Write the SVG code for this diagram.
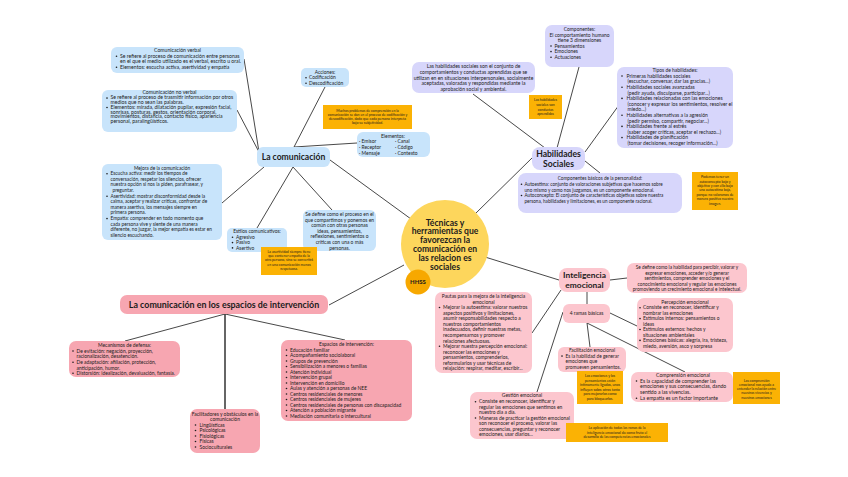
<svg xmlns="http://www.w3.org/2000/svg" width="848" height="477" viewBox="0 0 848 477">
<style>
text{font-family:Lato,"Open Sans","Liberation Sans",sans-serif;fill:#1c1c1c}
.t{font-size:4.95px}
.n{font-size:3.5px;text-anchor:middle}
.c{text-anchor:middle}
.h{font-size:9px;font-weight:700;text-anchor:middle}
.b{fill:#c8e4fb}
.p{fill:#d7d6fb}
.k{fill:#fcc6ce}
.k2{fill:#f7a6b1}
.o{fill:#fbb204}
.d{fill:#1c1c1c}
</style>
<rect width="848" height="477" fill="#ffffff"/>
<g id="connectors" stroke="#333" stroke-width="0.9" fill="none">
<line x1="244" y1="59" x2="259" y2="152"/>
<line x1="237" y1="110" x2="259" y2="152"/>
<line x1="222" y1="203" x2="264" y2="167"/>
<line x1="293" y1="167" x2="257" y2="228"/>
<line x1="293" y1="167" x2="332" y2="210"/>
<line x1="325" y1="87" x2="294" y2="147"/>
<line x1="357" y1="143" x2="294" y2="147"/>
<line x1="330" y1="160" x2="411" y2="219"/>
<line x1="329" y1="305" x2="404" y2="265"/>
<line x1="485" y1="257" x2="559" y2="280"/>
<line x1="475" y1="214" x2="533" y2="157"/>
<line x1="473" y1="94" x2="545" y2="148"/>
<line x1="579" y1="67" x2="557" y2="148"/>
<line x1="619" y1="105" x2="585" y2="152"/>
<line x1="585" y1="161" x2="600" y2="173"/>
<line x1="610" y1="280" x2="627" y2="278"/>
<line x1="587" y1="292" x2="587" y2="304"/>
<line x1="561" y1="290" x2="532" y2="333"/>
<line x1="563" y1="312" x2="537" y2="392"/>
<line x1="587" y1="323" x2="590" y2="347"/>
<line x1="610" y1="313" x2="637" y2="326"/>
<line x1="587" y1="323" x2="685" y2="372"/>
<line x1="225" y1="314" x2="125" y2="341"/>
<line x1="225" y1="314" x2="225" y2="409" stroke-width="1.5"/>
<line x1="225" y1="314" x2="345" y2="340"/>
</g>

<g id="center">
<circle cx="445" cy="244" r="44" fill="#fdd65c"/>
<text class="h" x="445" style="font-size:8.6px"><tspan x="445" y="225.5">Técnicas y</tspan><tspan x="445" y="234.3">herramientas que</tspan><tspan x="445" y="243.1">favorezcan la</tspan><tspan x="445" y="251.9">comunicación en</tspan><tspan x="445" y="260.7">las relacion es</tspan><tspan x="445" y="269.5">sociales</tspan></text>
</g>
<g id="hhss">
<circle cx="418" cy="282" r="12.5" fill="#f7a800"/>
<text class="h" x="418" y="284.2" style="font-size:6px">HHSS</text>
</g>

<g id="la-comunicacion">
<rect x="257" y="147" width="73" height="20" rx="6" class="b"/>
<text class="h" x="293.5" y="160.3" style="font-size:8.6px">La comunicación</text>
</g>

<g id="com-verbal">
<rect x="111" y="47" width="133" height="26" rx="6" class="b"/>
<text class="t c" x="177.5" y="52" style="font-size:5.15px">Comunicación verbal</text>
<circle class="d" cx="116.5" cy="56.3" r="0.8"/><circle class="d" cx="116.5" cy="67.3" r="0.8"/>
<text class="t" style="font-size:5.15px"><tspan x="120" y="57.6">Se refiere al proceso de comunicación entre personas</tspan><tspan x="120" y="63">en el que el medio utilizado es el verbal, escrito u oral.</tspan><tspan x="120" y="68.6">Elementos: escucha activa, asertividad y empatía</tspan></text>
</g>

<g id="com-no-verbal">
<rect x="102" y="90" width="135" height="42" rx="6" class="b"/>
<text class="t c" x="169.5" y="94.4" style="font-size:5.15px">Comunicación no verbal</text>
<circle class="d" cx="107" cy="98.1" r="0.8"/><circle class="d" cx="107" cy="107.5" r="0.8"/>
<text class="t" style="font-size:5.15px"><tspan x="110.5" y="99.4">Se refiere al proceso de trasmitir información por otros</tspan><tspan x="110.5" y="104.1">medios que no sean las palabras.</tspan><tspan x="110.5" y="108.8">Elementos: mirada, dilatación pupilar, expresión facial,</tspan><tspan x="110.5" y="113.5">sonrisas, posturas, gestos, orientación corporal,</tspan><tspan x="110.5" y="118.2">movimientos, distancia, contacto físico, apariencia</tspan><tspan x="110.5" y="122.9">personal, paralingüísticos.</tspan></text>
</g>

<g id="mejora">
<rect x="102" y="164" width="120" height="76" rx="6" class="b"/>
<text class="t c" x="162" y="169.8" style="font-size:4.8px">Mejora de la comunicación</text>
<circle class="d" cx="107" cy="173.8" r="0.8"/><circle class="d" cx="107" cy="196.2" r="0.8"/><circle class="d" cx="107" cy="218.6" r="0.8"/>
<text class="t" style="font-size:4.8px"><tspan x="110.5" y="175.2">Escucha activa: medir los tiempos de</tspan><tspan x="110.5" y="180.8">conversación, respetar los silencios, ofrecer</tspan><tspan x="110.5" y="186.4">nuestra opción si nos la piden, parafrasear, y</tspan><tspan x="112.5" y="192">preguntar.</tspan><tspan x="110.5" y="197.6">Asertividad: mostrar disconformidad desde la</tspan><tspan x="110.5" y="203.2">calma, aceptar y realizar críticas, confrontar de</tspan><tspan x="110.5" y="208.8">manera asertiva, los mensajes siempre en</tspan><tspan x="110.5" y="214.4">primera persona.</tspan><tspan x="110.5" y="220">Empatía: comprender en todo momento que</tspan><tspan x="110.5" y="225.6">cada persona vive y siente de una manera</tspan><tspan x="110.5" y="231.2">diferente, no juzgar, la mejor empatía es estar en</tspan><tspan x="110.5" y="236.8">silencio escuchando.</tspan></text>
</g>

<g id="acciones">
<rect x="301" y="68" width="48" height="19" rx="5" class="b"/>
<text class="t c" x="325" y="74">Acciones:</text>
<circle class="d" cx="306" cy="77.7" r="0.8"/><circle class="d" cx="306" cy="83.2" r="0.8"/>
<text class="t"><tspan x="309" y="79.4">Codificación</tspan><tspan x="309" y="84.9">Descodificación</tspan></text>
</g>

<g id="nota-codificacion">
<rect x="323" y="105" width="89" height="24" class="o"/>
<text class="n"><tspan x="367.5" y="111.5">Muchos problemas de comprensión en la</tspan><tspan x="367.5" y="115.8">comunicación se dan en el proceso de codificación y</tspan><tspan x="367.5" y="120.1">descodificación, dado que cada persona interpreta</tspan><tspan x="367.5" y="124.4">bajo su subjetividad.</tspan></text>
</g>

<g id="elementos">
<rect x="357" y="132" width="73" height="25" rx="6" class="b"/>
<text class="t c" x="393" y="137.8">Elementos:</text>
<text class="t"><tspan x="359" y="143.4">· Emisor</tspan><tspan x="359" y="149">· Receptor</tspan><tspan x="359" y="154.6">· Mensaje</tspan></text>
<text class="t"><tspan x="395" y="143.4">· Canal</tspan><tspan x="395" y="149">· Código</tspan><tspan x="395" y="154.6">· Contexto</tspan></text>
</g>

<g id="estilos">
<rect x="227" y="228" width="60" height="24" rx="5" class="b"/>
<text class="t c" x="257" y="233.4">Estilos comunicativos:</text>
<circle class="d" cx="232.5" cy="237.3" r="0.8"/><circle class="d" cx="232.5" cy="242.6" r="0.8"/><circle class="d" cx="232.5" cy="247.9" r="0.8"/>
<text class="t"><tspan x="236" y="239">Agresivo</tspan><tspan x="236" y="244.3">Pasivo</tspan><tspan x="236" y="249.6">Asertivo</tspan></text>
</g>

<g id="se-define-com">
<rect x="303" y="210" width="73" height="41" rx="6" class="b"/>
<text class="t c"><tspan x="339.5" y="216">Se define como el proceso en el</tspan><tspan x="339.5" y="221.6">que compartimos y ponemos en</tspan><tspan x="339.5" y="227.2">común con otras personas</tspan><tspan x="339.5" y="232.8">ideas, pensamientos,</tspan><tspan x="339.5" y="238.4">reflexiones, sentimientos o</tspan><tspan x="339.5" y="244">críticas con una o más</tspan><tspan x="339.5" y="249.6">personas.</tspan></text>
</g>

<g id="nota-asertividad">
<rect x="261" y="247" width="56" height="28" class="o"/>
<text class="n"><tspan x="289" y="253">La asertividad siempre tiene</tspan><tspan x="289" y="257.2">que contener empatía de la</tspan><tspan x="289" y="261.4">otra persona, sino se convertirá</tspan><tspan x="289" y="265.6">en una comunicación menos</tspan><tspan x="289" y="269.8">respetuosa.</tspan></text>
</g>

<g id="hab-sociales">
<rect x="532" y="147" width="53" height="23" rx="8" class="p"/>
<text class="h" style="font-size:8.6px"><tspan x="558.5" y="157.3">Habilidades</tspan><tspan x="558.5" y="167">Sociales</tspan></text>
</g>

<g id="hab-def">
<rect x="412" y="62" width="123" height="31" rx="7" class="p"/>
<text class="t c" style="font-size:5.05px"><tspan x="473.5" y="68.4">Las habilidades sociales son el conjunto de</tspan><tspan x="473.5" y="74">comportamientos y conductas aprendidas que se</tspan><tspan x="473.5" y="79.5">utilizan en en situaciones interpersonales, socialmente</tspan><tspan x="473.5" y="85">aceptadas, valoradas y respondidas mediante la</tspan><tspan x="473.5" y="90.6">aprobación social y ambiental.</tspan></text>
</g>

<g id="componentes">
<rect x="545" y="25" width="69" height="42" rx="7" class="p"/>
<text class="t c"><tspan x="579.5" y="31">Componentes:</tspan><tspan x="579.5" y="36.6">El comportamiento humano</tspan><tspan x="579.5" y="41.8">tiene 3 dimensiones</tspan></text>
<circle class="d" cx="551" cy="46" r="0.8"/><circle class="d" cx="551" cy="51.6" r="0.8"/><circle class="d" cx="551" cy="57.2" r="0.8"/>
<text class="t"><tspan x="554.5" y="47.7">Pensamientos</tspan><tspan x="554.5" y="53.3">Emociones</tspan><tspan x="554.5" y="58.9">Actuaciones</tspan></text>
</g>

<g id="nota-aprendidas">
<rect x="529" y="95" width="33" height="24" class="o"/>
<text class="n"><tspan x="545.5" y="101.3">Las habilidades</tspan><tspan x="545.5" y="105.9">sociales son</tspan><tspan x="545.5" y="110.5">conductas</tspan><tspan x="545.5" y="115.1">aprendidas</tspan></text>
</g>

<g id="tipos">
<rect x="617" y="67" width="116" height="81" rx="7" class="p"/>
<text class="t c" x="675" y="72.4">Tipos de  habilidades:</text>
<circle class="d" cx="622" cy="76" r="0.8"/><circle class="d" cx="622" cy="87.2" r="0.8"/><circle class="d" cx="622" cy="98.4" r="0.8"/><circle class="d" cx="622" cy="115.2" r="0.8"/><circle class="d" cx="622" cy="126.4" r="0.8"/><circle class="d" cx="622" cy="137.6" r="0.8"/>
<text class="t" style="font-size:5.05px"><tspan x="626.5" y="77.7">Primeras habilidades sociales</tspan><tspan x="627.5" y="83.3">(escuchar, conversar, dar las gracias...)</tspan><tspan x="626.5" y="88.9">Habilidades sociales avanzadas</tspan><tspan x="627.5" y="94.5">(pedir ayuda, disculparse, participar...)</tspan><tspan x="626.5" y="100.1">Habilidades relacionadas con las  emociones</tspan><tspan x="627.5" y="105.7">(conocer y expresar los sentimientos, resolver el</tspan><tspan x="627.5" y="111.3">miedo...)</tspan><tspan x="626.5" y="116.9">Habilidades alternativas a la agresión</tspan><tspan x="627.5" y="122.5">(pedir permiso, compartir, negociar...)</tspan><tspan x="626.5" y="128.1">Habilidades frente al estrés</tspan><tspan x="627.5" y="133.7">(saber acoger críticas, aceptar el rechazo...)</tspan><tspan x="626.5" y="139.3">Habilidades de planificación</tspan><tspan x="627.5" y="144.9">(tomar decisiones, recoger información...)</tspan></text>
</g>

<g id="comp-basicos">
<rect x="518" y="173" width="164" height="40" rx="8" class="p"/>
<text class="t c" x="600" y="180.2" style="font-size:4.7px">Componentes básicos de la personalidad:</text>
<circle class="d" cx="521.5" cy="184.3" r="0.8"/><circle class="d" cx="521.5" cy="195.5" r="0.8"/>
<text class="t" style="font-size:4.65px"><tspan x="524.5" y="186">Autoestima: conjunto de valoraciones subjetivas que hacemos sobre</tspan><tspan x="524.5" y="191.6">uno mismo y como nos juzgamos, es un componente emocional.</tspan><tspan x="524.5" y="197.2">Autoconcepto: El conjunto de características objetivas sobre nuestra</tspan><tspan x="524.5" y="202.8">persona, habilidades y limitaciones, es un componente racional.</tspan></text>
</g>

<g id="nota-autoconcepto">
<rect x="692" y="172" width="46" height="38" class="o"/>
<text class="n"><tspan x="715" y="178.2">Podemos tener un</tspan><tspan x="715" y="182.6">autoconcepto bajo y</tspan><tspan x="715" y="187">objetivo y con ello bajo</tspan><tspan x="715" y="191.4">una autoestima baja,</tspan><tspan x="715" y="195.8">porque no valoramos de</tspan><tspan x="715" y="200.2">manera positiva nuestra</tspan><tspan x="715" y="204.6">imagen.</tspan></text>
</g>

<g id="int-emocional">
<rect x="559" y="268" width="51" height="24" rx="8" class="k"/>
<text class="h" style="font-size:8.4px"><tspan x="584.5" y="278">Inteligencia</tspan><tspan x="584.5" y="288">emocional</tspan></text>
</g>

<g id="ie-def">
<rect x="627" y="263" width="120" height="30" rx="7" class="k"/>
<text class="t c" style="font-size:4.7px"><tspan x="687" y="269.4">Se define como la habilidad para percibir, valorar y</tspan><tspan x="687" y="274.8">expresar emociones, acceder y/o generar</tspan><tspan x="687" y="280.2">sentimientos, comprender emociones y el</tspan><tspan x="687" y="285.6">conocimiento emocional y regular las emociones</tspan><tspan x="687" y="291">promoviendo un crecimiento emocional e intelectual.</tspan></text>
</g>

<g id="percepcion">
<rect x="637" y="298" width="96" height="54" rx="7" class="k"/>
<text class="t c" x="685" y="304">Percepción emocional</text>
<circle class="d" cx="640" cy="307.7" r="0.8"/><circle class="d" cx="640" cy="318.6" r="0.8"/><circle class="d" cx="640" cy="329.5" r="0.8"/><circle class="d" cx="640" cy="340.4" r="0.8"/>
<text class="t"><tspan x="643" y="309.4">Consiste en reconocer, identificar y</tspan><tspan x="643" y="314.8">nombrar las emociones</tspan><tspan x="643" y="320.3">Estímulos internos: pensamientos o</tspan><tspan x="643" y="325.7">ideas</tspan><tspan x="643" y="331.2">Estímulos externos: hechos y</tspan><tspan x="643" y="336.6">situaciones ambientales</tspan><tspan x="643" y="342.1">Emociones básicas: alegría, ira, tristeza,</tspan><tspan x="643" y="347.5">miedo, aversión, asco y sorpresa</tspan></text>
</g>

<g id="ramas">
<rect x="563" y="304" width="47" height="19" rx="6" class="k"/>
<text class="t c" x="586.5" y="315.2">4 ramas básicas</text>
</g>

<g id="facilitacion">
<rect x="558" y="347" width="68" height="25" rx="6" class="k"/>
<text class="t c" x="592" y="352.4" style="font-size:4.8px">Facilitación emocional</text>
<circle class="d" cx="562" cy="356.1" r="0.8"/>
<text class="t" style="font-size:4.8px"><tspan x="565.5" y="357.8">Es la habilidad de generar</tspan><tspan x="565.5" y="363.3">emociones que</tspan><tspan x="565.5" y="368.8">promueven pensamientos.</tspan></text>
</g>

<g id="nota-emociones">
<rect x="577" y="371" width="46" height="33" class="o"/>
<text class="n"><tspan x="600" y="377">Las emociones y los</tspan><tspan x="600" y="381.5">pensamientos están</tspan><tspan x="600" y="386">íntimamente ligados, unos</tspan><tspan x="600" y="390.5">influyen sobre otros tanto</tspan><tspan x="600" y="395">para mejorarlos como</tspan><tspan x="600" y="399.5">para bloquearlos.</tspan></text>
</g>

<g id="pautas">
<rect x="435" y="292" width="97" height="81" rx="7" class="k"/>
<text class="t c"><tspan x="483.5" y="298.4">Pautas para la mejora de la inteligencia</tspan><tspan x="483.5" y="303.6">emocional</tspan></text>
<circle class="d" cx="439.5" cy="307.5" r="0.8"/><circle class="d" cx="439.5" cy="346.3" r="0.8"/>
<text class="t"><tspan x="443" y="309.2">Mejorar la autoestima: valorar nuestros</tspan><tspan x="443" y="314.75">aspectos positivos y limitaciones,</tspan><tspan x="443" y="320.3">asumir responsabilidades respecto a</tspan><tspan x="443" y="325.85">nuestros comportamientos</tspan><tspan x="443" y="331.4">inadecuados, definir nuestras metas,</tspan><tspan x="443" y="336.95">recompensarnos y promover</tspan><tspan x="443" y="342.5">relaciones afectuosas.</tspan><tspan x="443" y="348.05">Mejorar nuestra percepción emocional:</tspan><tspan x="443" y="353.6">reconocer las emociones y</tspan><tspan x="443" y="359.15">pensamientos, comprenderlos,</tspan><tspan x="443" y="364.7">reformularlos y usar técnicas de</tspan><tspan x="443" y="370.25">relajación: respirar, meditar, escribir...</tspan></text>
</g>

<g id="gestion">
<rect x="470" y="392" width="104" height="47" rx="7" class="k"/>
<text class="t c" x="522" y="396.8">Gestión emocional</text>
<circle class="d" cx="475.5" cy="401.7" r="0.8"/><circle class="d" cx="475.5" cy="418" r="0.8"/>
<text class="t"><tspan x="479" y="403.4">Consiste en reconocer, identificar y</tspan><tspan x="479" y="408.8">regular las emociones que sentimos en</tspan><tspan x="479" y="414.2">nuestro día a día.</tspan><tspan x="479" y="419.7">Maneras de practicar la gestión emocional</tspan><tspan x="479" y="425.1">son reconocer el proceso, valorar las</tspan><tspan x="479" y="430.5">consecuencias, preguntar y reconocer</tspan><tspan x="479" y="435.9">emociones, usar diarios...</tspan></text>
</g>

<g id="nota-competencias">
<rect x="566" y="423" width="102" height="19" class="o"/>
<text class="n"><tspan x="617" y="429.4">La aplicación de todas las ramas de la</tspan><tspan x="617" y="433.8">inteligencia emocional da como fruto el</tspan><tspan x="617" y="438.2">desarrollo de las competencias emocionales</tspan></text>
</g>

<g id="comprension">
<rect x="631" y="372" width="102" height="30" rx="7" class="k"/>
<text class="t c" x="683" y="377.4" style="font-size:5.1px">Comprensión emocional</text>
<circle class="d" cx="636.5" cy="381" r="0.8"/><circle class="d" cx="636.5" cy="398.3" r="0.8"/>
<text class="t" style="font-size:5.1px"><tspan x="640" y="382.7">Es la capacidad de comprender las</tspan><tspan x="640" y="388.4">emociones y sus consecuencias, dando</tspan><tspan x="640" y="394.1">sentido a las vivencias.</tspan><tspan x="640" y="400">La empatía es un factor importante</tspan></text>
</g>

<g id="nota-comprension">
<rect x="733" y="372" width="47" height="32" class="o"/>
<text class="n"><tspan x="756.5" y="381.8">Las comprensión</tspan><tspan x="756.5" y="386">emocional nos ayuda a</tspan><tspan x="756.5" y="390.2">entender la relación entre</tspan><tspan x="756.5" y="394.4">nuestras vivencias y</tspan><tspan x="756.5" y="398.6">nuestras emociones</tspan></text>
</g>

<g id="espacios-main">
<rect x="120" y="295" width="208" height="19" rx="7" class="k2"/>
<text class="h" x="224" y="307.8" style="font-size:8.9px">La comunicación en los espacios de intervención</text>
</g>

<g id="mecanismos">
<rect x="69" y="341" width="111" height="36" rx="7" class="k2"/>
<text class="t c" x="124.5" y="347.4">Mecanismos de defensa:</text>
<circle class="d" cx="73" cy="351" r="0.8"/><circle class="d" cx="73" cy="362.3" r="0.8"/><circle class="d" cx="73" cy="373.3" r="0.8"/>
<text class="t"><tspan x="76.5" y="352.7">De evitación: negación, proyección,</tspan><tspan x="76.5" y="358.4">racionalización, desatención.</tspan><tspan x="76.5" y="364">De adaptación: afiliación, protección,</tspan><tspan x="76.5" y="369.5">anticipación, humor.</tspan><tspan x="76.5" y="375">Distorsión: idealización, devaluación, fantasía.</tspan></text>
</g>

<g id="facilitadores">
<rect x="190" y="409" width="70" height="44" rx="7" class="k2"/>
<text class="t c"><tspan x="225" y="415.7">Facilitadores y obstáculos en la</tspan><tspan x="225" y="420.7">comunicación</tspan></text>
<circle class="d" cx="195.5" cy="425" r="0.8"/><circle class="d" cx="195.5" cy="430.5" r="0.8"/><circle class="d" cx="195.5" cy="436" r="0.8"/><circle class="d" cx="195.5" cy="441.5" r="0.8"/><circle class="d" cx="195.5" cy="447" r="0.8"/>
<text class="t"><tspan x="199.5" y="426.7">Lingüísticas</tspan><tspan x="199.5" y="432.2">Psicológicas</tspan><tspan x="199.5" y="437.7">Fisiológicas</tspan><tspan x="199.5" y="443.2">Físicas</tspan><tspan x="199.5" y="448.7">Socioculturales</tspan></text>
</g>

<g id="espacios">
<rect x="281" y="340" width="131" height="81" rx="7" class="k2"/>
<text class="t c" x="346.5" y="346">Espacios de intervención:</text>
<g class="d">
<circle cx="286.5" cy="350" r="0.8"/><circle cx="286.5" cy="355.5" r="0.8"/><circle cx="286.5" cy="361" r="0.8"/><circle cx="286.5" cy="366.5" r="0.8"/><circle cx="286.5" cy="372" r="0.8"/><circle cx="286.5" cy="377.5" r="0.8"/><circle cx="286.5" cy="383" r="0.8"/><circle cx="286.5" cy="388.5" r="0.8"/><circle cx="286.5" cy="394" r="0.8"/><circle cx="286.5" cy="399.5" r="0.8"/><circle cx="286.5" cy="405" r="0.8"/><circle cx="286.5" cy="410.5" r="0.8"/><circle cx="286.5" cy="416" r="0.8"/>
</g>
<text class="t"><tspan x="290" y="351.7">Educación familiar</tspan><tspan x="290" y="357.2">Acompañamiento sociolaboral</tspan><tspan x="290" y="362.7">Grupos de prevención</tspan><tspan x="290" y="368.2">Sensibilización a menores o familias</tspan><tspan x="290" y="373.7">Atención individual</tspan><tspan x="290" y="379.2">Intervención grupal</tspan><tspan x="290" y="384.7">Intervención en domicilio</tspan><tspan x="290" y="390.2">Aulas y atención a personas de NEE</tspan><tspan x="290" y="395.7">Centros residenciales de menores</tspan><tspan x="290" y="401.2">Centros residenciales de mujeres</tspan><tspan x="290" y="406.7">Centros residenciales de personas con discapacidad</tspan><tspan x="290" y="412.2">Atención a población migrante</tspan><tspan x="290" y="417.7">Mediación comunitaria o intercultural</tspan></text>
</g>
</svg>
